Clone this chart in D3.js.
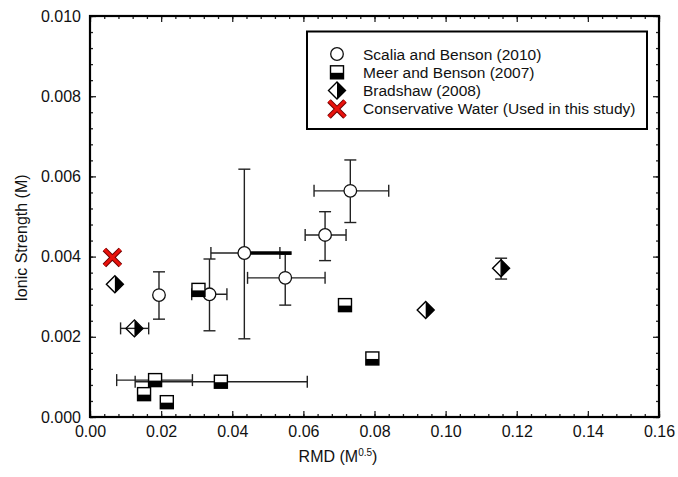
<!DOCTYPE html>
<html>
<head>
<meta charset="utf-8">
<script src="https://cdn.jsdelivr.net/npm/d3@7"></script>
<style>
  body { margin: 0; background: #fff; }
  svg text { font-family: "Liberation Sans", Arial, sans-serif; fill: #111; }
</style>
</head>
<body>
<div id="chart"></div>
<script>
(function() {
  // Scalia and Benson (2010)
  var scaliaX = [0.0194, 0.0336, 0.0434, 0.0549, 0.0661, 0.0732];
  var scaliaY = [0.00304, 0.00306, 0.00409, 0.00347, 0.00454, 0.00564];
  var scaliaXLo = [null, 0.0286, 0.0340, 0.0443, 0.0605, 0.0630];
  var scaliaXHi = [null, 0.0385, 0.0534, 0.0661, 0.0720, 0.0840];
  var scaliaYLo = [0.00244, 0.00215, 0.00195, 0.00279, 0.00390, 0.00485];
  var scaliaYHi = [0.00362, 0.00394, 0.00618, 0.00406, 0.00512, 0.00641];
  // overlapping heavy whisker near (0.043, 0.0041)
  var boldX0 = [0.0434], boldX1 = [0.0567], boldY = [0.00409];

  // Meer and Benson (2007)
  var meerX = [0.0305, 0.0183, 0.0368, 0.0152, 0.0216, 0.0717, 0.0794];
  var meerY = [0.00317, 0.00092, 0.00088, 0.00057, 0.00037, 0.00279, 0.00146];
  var meerXLo = [null, 0.0075, 0.0127, null, null, null, null];
  var meerXHi = [null, 0.0288, 0.0611, null, null, null, null];

  // Bradshaw (2008)
  var bradX = [0.0070, 0.0125, 0.0944, 0.1156];
  var bradY = [0.00331, 0.00221, 0.00267, 0.00371];
  var bradXLo = [null, 0.0086, null, null];
  var bradXHi = [null, 0.0165, null, null];
  var bradYLo = [null, null, null, 0.00344];
  var bradYHi = [null, null, null, 0.00396];

  // Conservative water
  var consX = [0.0063];
  var consY = [0.00398];

  var xTicks = [0, 0.02, 0.04, 0.06, 0.08, 0.10, 0.12, 0.14, 0.16];
  var yTicks = [0, 0.002, 0.004, 0.006, 0.008, 0.010];
  var legendLabels = ['Scalia and Benson (2010)', 'Meer and Benson (2007)', 'Bradshaw (2008)', 'Conservative Water (Used in this study)'];

  var W = 678, H = 477;
  var left = 90, right = 659, top = 16, bottom = 417;
  var x = d3.scaleLinear().domain([0, 0.16]).range([left, right]);
  var y = d3.scaleLinear().domain([0, 0.01]).range([bottom, top]);

  var svg = d3.select('#chart').append('svg').attr('width', W).attr('height', H);

  var xMinor = d3.range(0, 0.1601, 0.004), yMinor = d3.range(0, 0.01001, 0.0004);

  // ticks, all four sides, pointing inward
  var drawAxis = function(gen, pos, vals, size, labels) {
    var g = svg.append('g').attr('transform', pos).call(gen.tickValues(vals).tickSize(size).tickSizeOuter(0).tickPadding(labels ? 9 : 0).tickFormat(labels ? d3.format('.' + labels + 'f') : ''));
    g.select('.domain').remove();
    g.selectAll('line').attr('stroke', '#222').attr('stroke-width', 1.3);
    g.selectAll('text').style('font-size', '16px').attr('fill', '#111');
    return g;
  };
  drawAxis(d3.axisBottom(x), 'translate(0,' + bottom + ')', xMinor, -3);
  drawAxis(d3.axisBottom(x), 'translate(0,' + bottom + ')', xTicks, -6, 2);
  drawAxis(d3.axisTop(x), 'translate(0,' + top + ')', xMinor, -3);
  drawAxis(d3.axisTop(x), 'translate(0,' + top + ')', xTicks, -6);
  drawAxis(d3.axisLeft(y), 'translate(' + left + ',0)', yMinor, -3);
  drawAxis(d3.axisLeft(y), 'translate(' + left + ',0)', yTicks, -6, 3);
  drawAxis(d3.axisRight(y), 'translate(' + right + ',0)', yMinor, -3);
  drawAxis(d3.axisRight(y), 'translate(' + right + ',0)', yTicks, -6);

  svg.append('rect').attr('x', left).attr('y', top).attr('width', right - left).attr('height', bottom - top)
    .attr('fill', 'none').attr('stroke', '#000').attr('stroke-width', 2.2);

  // axis titles
  var xt = svg.append('text').attr('x', 338).attr('y', 462).attr('text-anchor', 'middle').style('font-size', '16px');
  xt.append('tspan').text('RMD (M');
  xt.append('tspan').attr('dy', -6).style('font-size', '10px').text('0.5');
  xt.append('tspan').attr('dy', 6).text(')');
  svg.append('text').attr('transform', 'translate(27,238) rotate(-90)').attr('text-anchor', 'middle')
    .style('font-size', '16px').text('Ionic Strength (M)');

  // error bars
  var bars = svg.append('g').attr('stroke', '#222').attr('stroke-width', 1.4).attr('fill', 'none');
  var cap = 6;
  var errX = function(xs, ys, lo, hi) {
    xs.forEach(function(v, i) {
      if (lo[i] == null) return;
      var yy = y(ys[i]);
      bars.append('line').attr('x1', x(lo[i])).attr('x2', x(hi[i])).attr('y1', yy).attr('y2', yy);
      bars.append('line').attr('x1', x(lo[i])).attr('x2', x(lo[i])).attr('y1', yy - cap).attr('y2', yy + cap);
      bars.append('line').attr('x1', x(hi[i])).attr('x2', x(hi[i])).attr('y1', yy - cap).attr('y2', yy + cap);
    });
  };
  var errY = function(xs, ys, lo, hi) {
    xs.forEach(function(v, i) {
      if (lo[i] == null) return;
      var xx = x(v);
      bars.append('line').attr('x1', xx).attr('x2', xx).attr('y1', y(lo[i])).attr('y2', y(hi[i]));
      bars.append('line').attr('x1', xx - cap).attr('x2', xx + cap).attr('y1', y(lo[i])).attr('y2', y(lo[i]));
      bars.append('line').attr('x1', xx - cap).attr('x2', xx + cap).attr('y1', y(hi[i])).attr('y2', y(hi[i]));
    });
  };
  errX(scaliaX, scaliaY, scaliaXLo, scaliaXHi);
  errY(scaliaX, scaliaY, scaliaYLo, scaliaYHi);
  errX(meerX, meerY, meerXLo, meerXHi);
  errX(bradX, bradY, bradXLo, bradXHi);
  errY(bradX, bradY, bradYLo, bradYHi);
  boldX0.forEach(function(v, i) {
    bars.append('line').attr('x1', x(v)).attr('x2', x(boldX1[i])).attr('y1', y(boldY[i])).attr('y2', y(boldY[i]))
      .attr('stroke', '#000').attr('stroke-width', 3.5);
  });

  // markers
  var circle = function(g, cx, cy) {
    g.append('circle').attr('cx', cx).attr('cy', cy).attr('r', 6.3).attr('fill', '#fff').attr('stroke', '#111').attr('stroke-width', 1.3);
  };
  var square = function(g, cx, cy) {
    var s = 6.5;
    g.append('rect').attr('x', cx - s).attr('y', cy - s).attr('width', 2 * s).attr('height', 2 * s).attr('fill', '#fff').attr('stroke', '#000').attr('stroke-width', 1.4);
    g.append('rect').attr('x', cx - s).attr('y', cy + 0.5).attr('width', 2 * s).attr('height', s - 0.5).attr('fill', '#000');
  };
  var diamond = function(g, cx, cy) {
    var s = 8.5;
    g.append('path').attr('d', 'M' + cx + ',' + (cy - s) + 'L' + (cx + s) + ',' + cy + 'L' + cx + ',' + (cy + s) + 'Z').attr('fill', '#000');
    g.append('path').attr('d', 'M' + cx + ',' + (cy - s) + 'L' + (cx + s) + ',' + cy + 'L' + cx + ',' + (cy + s) + 'L' + (cx - s) + ',' + cy + 'Z')
      .attr('fill', 'none').attr('stroke', '#000').attr('stroke-width', 1.4);
  };
  var cross = function(g, cx, cy) {
    var s = 8;
    var d = 'M' + (cx - s) + ',' + (cy - s) + 'L' + (cx + s) + ',' + (cy + s) + 'M' + (cx + s) + ',' + (cy - s) + 'L' + (cx - s) + ',' + (cy + s);
    g.append('path').attr('d', d).attr('stroke', '#6b0000').attr('stroke-width', 5);
    g.append('path').attr('d', d).attr('stroke', '#e8120c').attr('stroke-width', 3);
  };

  var marks = svg.append('g');
  scaliaX.forEach(function(v, i) { circle(marks, x(v), y(scaliaY[i])); });
  meerX.forEach(function(v, i) { square(marks, x(v), y(meerY[i])); });
  bradX.forEach(function(v, i) { diamond(marks, x(v), y(bradY[i])); });
  consX.forEach(function(v, i) { cross(marks, x(v), y(consY[i])); });

  // legend
  var lg = svg.append('g');
  lg.append('rect').attr('x', 307).attr('y', 31.5).attr('width', 340).attr('height', 97.5).attr('fill', '#fff').attr('stroke', '#000').attr('stroke-width', 2);
  var symbols = [circle, square, diamond, cross];
  legendLabels.forEach(function(t, i) {
    var ly = 54 + i * 18.3;
    symbols[i](lg, 337, ly);
    lg.append('text').attr('x', 363).attr('y', ly + 5.5).style('font-size', '15.5px').text(t);
  });
}).call(this);
</script>
</body>
</html>
